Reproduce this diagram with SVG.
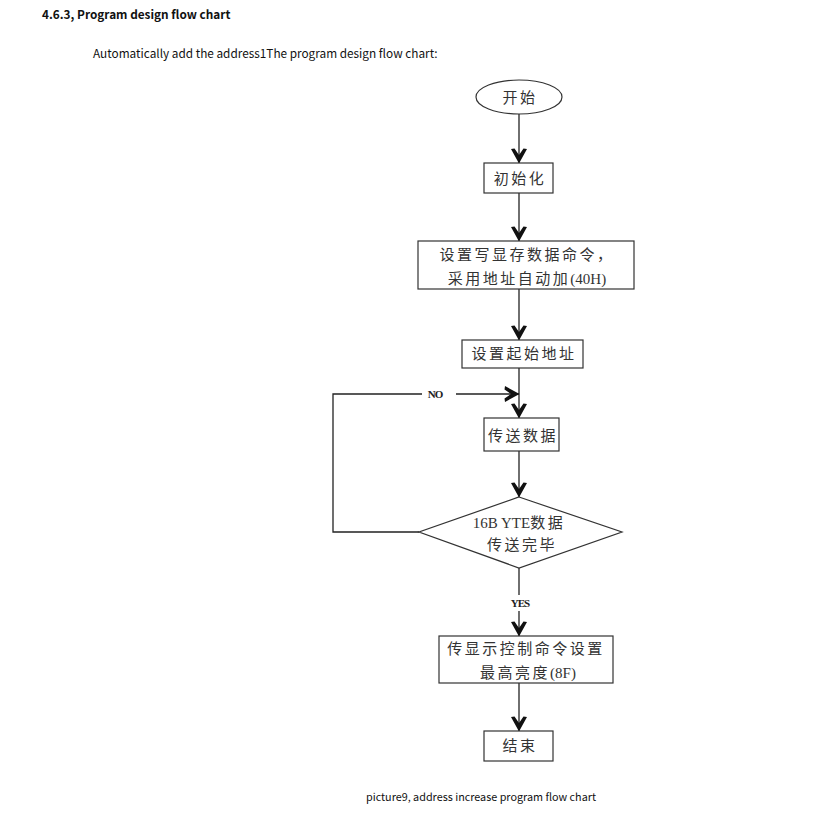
<svg xmlns="http://www.w3.org/2000/svg" width="813" height="820" viewBox="0 0 813 820">
<style>
.hdr{font-family:"Noto Sans CJK SC","Noto Sans",sans-serif;fill:#111}
.t{font-family:"Liberation Serif","Noto Sans CJK SC",serif;font-size:15px;fill:#333;text-anchor:middle;letter-spacing:2.5px}
.la{letter-spacing:0}
.lbl{font-family:"Liberation Serif",serif;font-size:11px;font-weight:bold;fill:#222;text-anchor:middle;letter-spacing:-1px}
.box{fill:#fff;stroke:#333;stroke-width:1.2}
.ln{fill:none;stroke:#222;stroke-width:1.3}
</style>
<defs>
<marker id="arr" viewBox="-16 -9 17 18" markerWidth="17" markerHeight="18" refX="0" refY="0" orient="auto" markerUnits="userSpaceOnUse">
<path d="M0.5,0 L-14,-8 L-14.5,-4.5 L-8,0 L-14.5,4.5 L-14,8 Z" fill="#111"/>
</marker>
</defs>
<rect width="813" height="820" fill="#fff"/>
<text class="hdr" x="42" y="19" font-size="11.8" font-weight="bold">4.6.3, Program design flow chart</text>
<text class="hdr" x="93" y="58" font-size="11.8">Automatically add the address1The program design flow chart:</text>
<g id="connectors">
<line class="ln" x1="519" y1="114" x2="519" y2="163" marker-end="url(#arr)"/>
<line class="ln" x1="519" y1="193" x2="519" y2="241" marker-end="url(#arr)"/>
<line class="ln" x1="519" y1="289" x2="519" y2="340" marker-end="url(#arr)"/>
<line class="ln" x1="519" y1="368" x2="519" y2="418" marker-end="url(#arr)"/>
<line class="ln" x1="519" y1="451" x2="519" y2="497" marker-end="url(#arr)"/>
<polyline class="ln" points="419,532 333,532 333,394 422,394"/>
<line class="ln" x1="456" y1="394" x2="519" y2="394" marker-end="url(#arr)"/>
<line class="ln" x1="519" y1="568" x2="519" y2="595"/>
<line class="ln" x1="519" y1="611" x2="519" y2="636" marker-end="url(#arr)"/>
<line class="ln" x1="519" y1="683" x2="519" y2="731" marker-end="url(#arr)"/>
<text class="lbl" x="435" y="398">NO</text>
<text class="lbl" x="520" y="607">YES</text>
</g>
<g id="start">
<ellipse class="box" cx="519" cy="97" rx="43" ry="17"/>
<text class="t" x="520" y="103">开始</text>
</g>
<g id="init">
<rect class="box" x="484" y="163" width="69" height="30"/>
<text class="t" x="520" y="184">初始化</text>
</g>
<g id="setcmd">
<rect class="box" x="418" y="241" width="216" height="48"/>
<text class="t" x="527" y="260">设置写显存数据命令，</text>
<text class="t" x="527" y="284">采用地址自动加<tspan class="la">(40H)</tspan></text>
</g>
<g id="setaddr">
<rect class="box" x="462" y="340" width="121" height="28"/>
<text class="t" x="524" y="359">设置起始地址</text>
</g>
<g id="send">
<rect class="box" x="484" y="418" width="75" height="33"/>
<text class="t" x="523" y="441">传送数据</text>
</g>
<g id="decision">
<polygon class="box" points="519,497 622,532 519,568 419,532"/>
<text class="t" x="519" y="528"><tspan class="la">16B YTE</tspan>数据</text>
<text class="t" x="522" y="550">传送完毕</text>
</g>
<g id="display">
<rect class="box" x="439" y="636" width="174" height="47"/>
<text class="t" x="526" y="654">传显示控制命令设置</text>
<text class="t" x="528" y="678">最高亮度<tspan class="la">(8F)</tspan></text>
</g>
<g id="end">
<rect class="box" x="484" y="731" width="69" height="30"/>
<text class="t" x="520" y="751">结束</text>
</g>
<text class="hdr" x="481" y="801" font-size="10.8" text-anchor="middle">picture9, address increase program flow chart</text>
</svg>
